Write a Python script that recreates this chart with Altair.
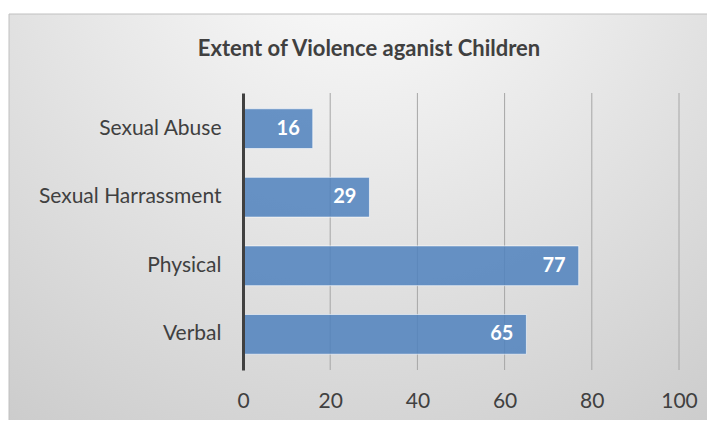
import altair as alt
import pandas as pd

categories = ["Sexual Abuse", "Sexual Harrassment", "Physical", "Verbal"]
values = [16, 29, 77, 65]
ticks = [0, 20, 40, 60, 80, 100]
chart_title = "Extent of Violence aganist Children"

df = pd.DataFrame({"category": categories, "value": values})
grid_df = pd.DataFrame({"value": ticks[1:]})
one = pd.DataFrame({"a": [0]})

W, H = 436, 277
FONT = "Lato"
TXT = "#404040"

xscale = alt.Scale(domain=[0, 100], nice=False)
xaxis = alt.Axis(title=None, values=ticks, ticks=False, domain=False,
                 grid=False, labelFontSize=21, labelFont=FONT, labelFlush=False,
                 labelColor=TXT, labelPadding=20, zindex=1)

bg = alt.Chart(one).mark_rect(
    fill=alt.Gradient(
        gradient="radial",
        stops=[alt.GradientStop(offset=0, color="#ffffff"),
               alt.GradientStop(offset=1, color="#c6c6c6")],
        x1=0.5, y1=0.05, r1=0, x2=0.5, y2=0.05, r2=1.0,
    ),
    stroke="#c0c0c0", strokeWidth=1,
).encode(x=alt.value(-234), x2=alt.value(470), y=alt.value(-79), y2=alt.value(330))

grid = alt.Chart(grid_df).mark_rule(color="#a6a6a6", strokeWidth=1).encode(
    x=alt.X("value:Q", scale=xscale, axis=xaxis),
    y=alt.value(0), y2=alt.value(H),
)

base = alt.Chart(df).encode(
    y=alt.Y("category:N", sort=categories,
            scale=alt.Scale(paddingInner=0.42, paddingOuter=0.23),
            axis=alt.Axis(title=None, ticks=False, grid=False, domain=True,
                          domainColor=TXT, domainWidth=3, labelFontSize=21,
                          labelFont=FONT, labelColor=TXT, labelPadding=22,
                          labelLimit=400, zindex=2)),
    x=alt.X("value:Q", scale=xscale, axis=xaxis),
)

bars = base.mark_bar(fill="#4f81bd", fillOpacity=0.85, stroke="#ffffff",
                     strokeOpacity=0.6, strokeWidth=1)
labels = base.mark_text(align="right", baseline="middle", dx=-13, color="white",
                        fontWeight="bold", fontSize=20, font=FONT).encode(
    text="value:Q")

chart = alt.layer(bg, grid, bars, labels).properties(
    width=W, height=H,
    padding={"left": 235, "top": 85, "right": 28, "bottom": 50},
    autosize=alt.AutoSizeParams(type="none"),
    background="#ffffff",
    title=alt.TitleParams(chart_title, font=FONT, fontSize=22, fontWeight="bold",
                          color=TXT, anchor="middle", frame="group", dx=-92,
                          offset=-64, baseline="alphabetic"),
).configure_view(stroke=None)

chart.save("out.html", embed_options={"renderer": "svg", "actions": False})
